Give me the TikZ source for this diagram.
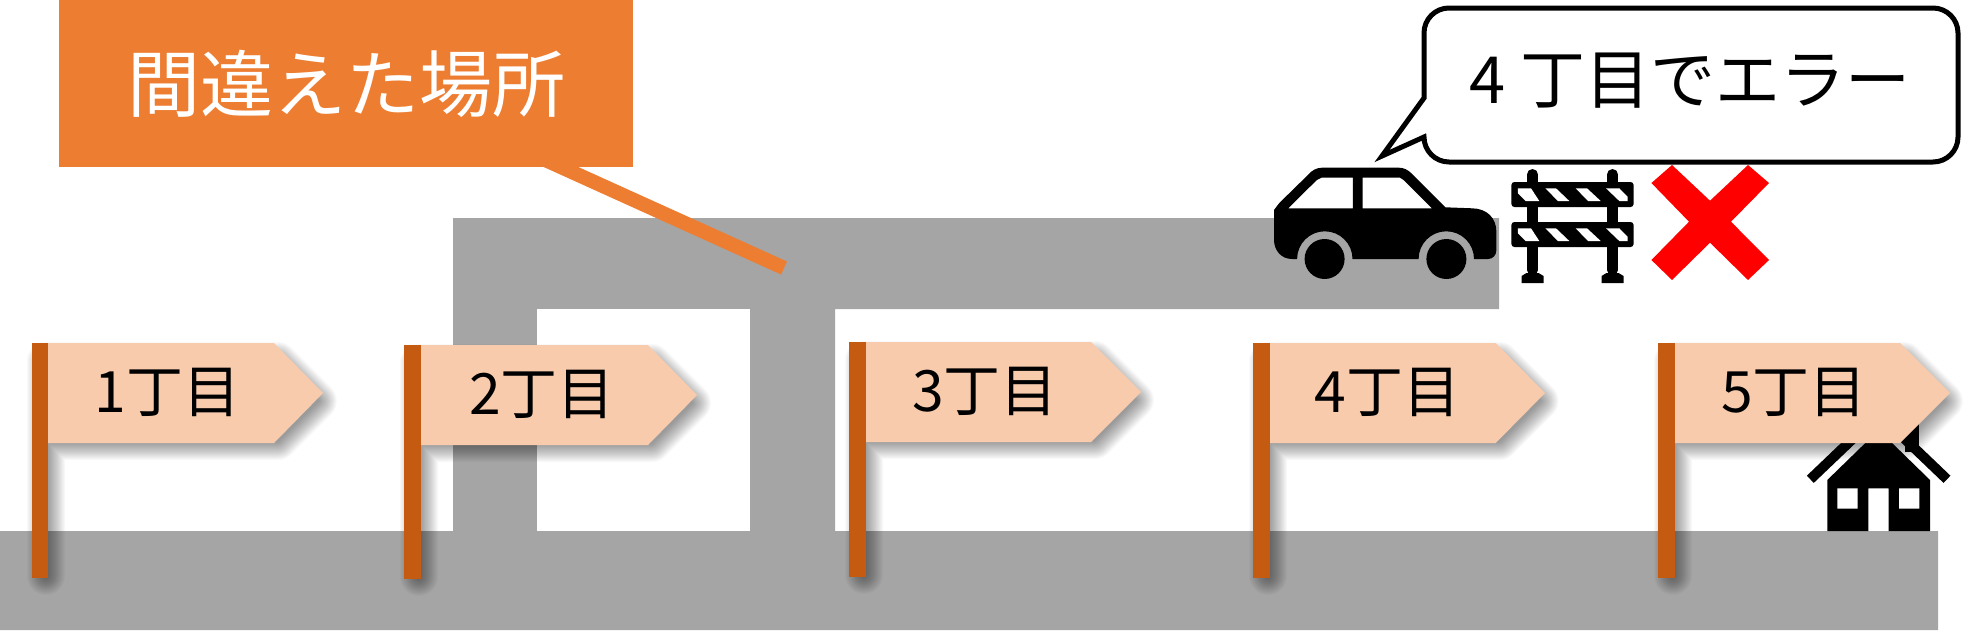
\documentclass[tikz,border=0pt]{standalone}
\usepackage{fontspec}
\setmainfont{Noto Sans CJK JP}
\usetikzlibrary{calc}

\definecolor{roadgray}{HTML}{A5A5A5}
\definecolor{notegold}{HTML}{ED7D31}
\definecolor{polebrown}{HTML}{C55A11}
\definecolor{flagpeach}{HTML}{F8CBAD}

\tikzset{
  flagtext/.style={inner sep=0pt,anchor=center,font=\fontsize{57}{60}\selectfont},
  stripe/.style={fill=white,draw=none}
}

\begin{document}
\begin{tikzpicture}[x=1pt,y=-1pt]

  \useasboundingbox (0,0) rectangle (1979,630);
  \fill [white] (0,0) rectangle (1979,630);

  % road
  \fill [roadgray] (0,531) -- (453,531) -- (453,218) -- (1499,218) -- (1499,309) -- (835,309)
    -- (835,531) -- (1938,531) -- (1938,630) -- (0,630) -- cycle;
  \fill [white] (537,309) rectangle (750,531);

  % house
  \fill [black] (1827.3,531) -- (1827.3,480) -- (1878.7,430) -- (1930,480) -- (1930,531) -- (1888.7,531)
    -- (1888.7,488.3) -- (1868.3,488.3) -- (1868.3,531) -- cycle;
  \fill [white] (1837.3,488.3) rectangle (1857.7,508.7)
    (1899,488.3) rectangle (1919.3,508.7);
  \draw [black,line width=10pt] (1810.3,479.3) -- (1878.7,414) -- (1947,479.3);
  \fill [black] (1905,400) rectangle (1919.3,452);

  % car
  \fill [black,even odd rule] (1274,210) -- (1279.3,203) -- (1307.9,175)
    .. controls (1312,170) and (1317,167.7) .. (1322,167.7) -- (1399,167.7)
    .. controls (1404,167.7) and (1408,170) .. (1411.4,173.3) -- (1445.4,207.3) -- (1472,208.3)
    .. controls (1487,208.5) and (1496.4,218) .. (1496.4,232) -- (1496.4,250)
    .. controls (1496.4,255) and (1493,259) .. (1488,259) -- (1474,259)
    arc [start angle=0,end angle=180,radius=27.7pt] -- (1352.5,259)
    arc [start angle=0,end angle=180,radius=27.7pt] -- (1292,259)
    .. controls (1281,259) and (1274,250) .. (1274,240) -- cycle
    (1288.2,208.3) -- (1316.8,180) -- (1321.4,177.7) -- (1352.9,177.7) -- (1352.9,208.3) -- cycle
    (1362.5,177.7) -- (1400,177.7) -- (1403.6,180) -- (1432,208.3) -- (1362.5,208.3) -- cycle;
  \fill [black] (1324.6,259) circle (20pt) (1446.4,259) circle (20pt);

  % barrier
  \foreach \postx in {1532.5,1612.5} {
    \draw [black,line width=11pt,line cap=round] (\postx,174.5) -- (\postx,270);
    \fill [black] ($(\postx,283)+(-11,0)$) -- ($(\postx,283)+(-11,-7)$) -- ($(\postx,283)+(-6,-10)$)
      -- ($(\postx,283)+(6,-10)$) -- ($(\postx,283)+(11,-7)$) -- ($(\postx,283)+(11,0)$) -- cycle;
  }
  \foreach \bary in {182,222} {
    \fill [black,rounded corners=3pt] (1511.4,\bary) rectangle (1633.6,\bary+25);
    \fill [stripe] (1517.9,\bary+6.3) -- (1531,\bary+6.3) -- (1539.3,\bary+19) -- (1525.7,\bary+19) -- (1517.9,\bary+11.3) -- cycle;
    \fill [stripe] (1545.4,\bary+6.3) -- (1556,\bary+6.3) -- (1569.3,\bary+19) -- (1557.9,\bary+19) -- cycle;
    \fill [stripe] (1575.7,\bary+6.3) -- (1587,\bary+6.3) -- (1600.7,\bary+19) -- (1588,\bary+19) -- cycle;
    \fill [stripe] (1606,\bary+6.3) -- (1619.3,\bary+6.3) -- (1627.5,\bary+14.7) -- (1627.5,\bary+19) -- (1619.3,\bary+19) -- cycle;
  }

  % cross
  \fill [red] (1651.4,183) -- (1672,165) -- (1710,200.7) -- (1748,165) -- (1769,183) -- (1731,221.7)
    -- (1769,260) -- (1748,280) -- (1710,242.7) -- (1672,280) -- (1651.4,260) -- (1689,221.7) -- cycle;

  % callout
  \draw [line width=5pt,fill=white,miter limit=10] (1424,98) -- (1424,33)
    arc [start angle=180,end angle=90,radius=25pt] -- (1933,8)
    arc [start angle=90,end angle=0,radius=25pt] -- (1958,137)
    arc [start angle=0,end angle=-90,radius=25pt] -- (1449,162)
    arc [start angle=-90,end angle=-180,radius=25pt] -- (1382,156) -- cycle;
  \node [flagtext,font=\fontsize{65}{68}\selectfont] (errmsg) at (1690,81) {4 丁目でエラー};

  % flags
  \foreach \n/\polel/\poler/\topy/\boty/\shx/\tipx/\texx/\texy in {
    1/32/48/343/578/274/323/167.5/392,
    2/404/421/345/579/648/697/542/394,
    3/849/866/342/577/1091/1141/985/391,
    4/1253/1270/343/578/1495.7/1545/1387.5/392,
    5/1658/1675/343/578/1900/1950/1794/392} {
    % soft shadow, stacked from wide to narrow
    \foreach \w in {38,36,...,2} {
      \draw [black,opacity=0.022,line width=\w pt,line join=round]
        (\poler-2,\topy+18) -- (\shx+3.9,\topy+18) -- (\shx+43.9,\topy+58) -- (\shx+3.9,\topy+98)
        -- (\poler-2,\topy+98) -- (\poler-2,\boty-2) -- cycle;
    }
    \fill [flagpeach] (\poler,\topy) -- (\shx,\topy) -- (\tipx,\topy+50) -- (\shx,\topy+100) -- (\poler,\topy+100) -- cycle;
    \fill [polebrown] (\polel,\topy) rectangle (\poler,\boty);
    \node [flagtext] (flag\n) at (\texx,\texy) {\n 丁目};
  }

  % wrong place note
  \coordinate (wrongspot) at (784,268);
  \draw [notegold,line width=14.3pt] (540,157.5) -- (wrongspot);
  \node [fill=notegold,inner sep=0pt,minimum width=574pt,minimum height=167pt,text=white,
    font=\fontsize{73}{76}\selectfont] (note) at (346,83.5) {間違えた場所};

\end{tikzpicture}
\end{document}
